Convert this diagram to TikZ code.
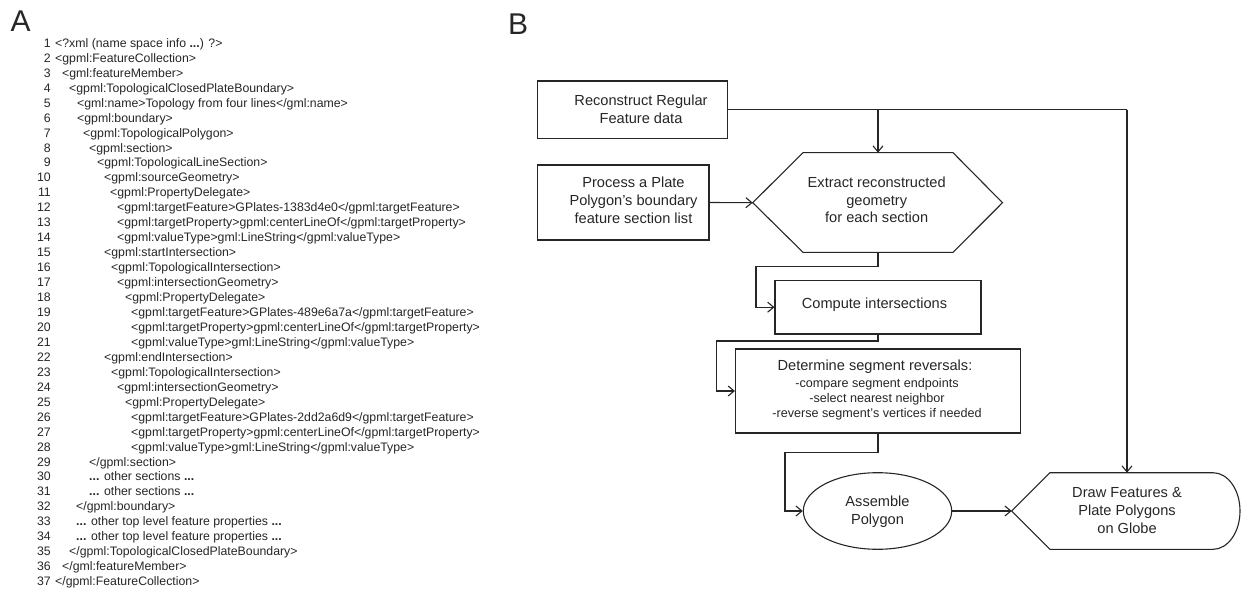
\documentclass[tikz,border=0pt]{standalone}
\usepackage{fontspec}
\setmainfont{Liberation Sans}
\usetikzlibrary{arrows.meta,shapes.geometric}
\definecolor{ink}{HTML}{262626}
\newcommand\codeline[3]{%
  \node[num] (n#1) at (51,{43+14.95*(#1-1)+4.4}) {#1};
  \node[code] (l#1) at (#2,{43+14.95*(#1-1)+4.4}) {#3};}
\begin{document}
\begin{tikzpicture}[x=1pt,y=-1pt,
  num/.style={anchor=base east,inner sep=0,text=ink,font=\fontsize{12.3}{15}\selectfont},
  code/.style={anchor=base west,inner sep=0,text=ink,font=\fontsize{12.3}{15}\selectfont},
  panel/.style={anchor=base west,inner sep=0,text=ink,font=\fontsize{30}{34}\selectfont},
  box/.style={draw=ink,line width=1.1pt,rectangle,inner sep=0},
  txt/.style={align=center,inner sep=0,text=ink,font=\fontsize{14.6}{17.6}\selectfont},
  small/.style={align=center,inner sep=0,text=ink,font=\fontsize{12.6}{15}\selectfont},
  ln/.style={draw=ink,line width=1.1pt,line join=miter},
  arr/.style={ln,-{Straight Barb[length=6pt,width=10pt]}}]
\useasboundingbox (0,0) rectangle (1241,596);
% panel labels
\node[panel] (labA) at (10.5,32) {A};
\node[panel] (labB) at (508,35) {B};
% code listing
\codeline{1}{55}{<?xml (name space info \textbf{...}) ?>}
\codeline{2}{55}{<gpml:FeatureCollection>}
\codeline{3}{62}{<gml:featureMember>}
\codeline{4}{69}{<gpml:TopologicalClosedPlateBoundary>}
\codeline{5}{77}{<gml:name>Topology from four lines</gml:name>}
\codeline{6}{77}{<gpml:boundary>}
\codeline{7}{83}{<gpml:TopologicalPolygon>}
\codeline{8}{89}{<gpml:section>}
\codeline{9}{97}{<gpml:TopologicalLineSection>}
\codeline{10}{104}{<gpml:sourceGeometry>}
\codeline{11}{110}{<gpml:PropertyDelegate>}
\codeline{12}{117}{<gpml:targetFeature>GPlates-1383d4e0</gpml:targetFeature>}
\codeline{13}{117}{<gpml:targetProperty>gpml:centerLineOf</gpml:targetProperty>}
\codeline{14}{117}{<gpml:valueType>gml:LineString</gpml:valueType>}
\codeline{15}{104}{<gpml:startIntersection>}
\codeline{16}{111}{<gpml:TopologicalIntersection>}
\codeline{17}{117}{<gpml:intersectionGeometry>}
\codeline{18}{125}{<gpml:PropertyDelegate>}
\codeline{19}{131}{<gpml:targetFeature>GPlates-489e6a7a</gpml:targetFeature>}
\codeline{20}{131}{<gpml:targetProperty>gpml:centerLineOf</gpml:targetProperty>}
\codeline{21}{131}{<gpml:valueType>gml:LineString</gpml:valueType>}
\codeline{22}{104}{<gpml:endIntersection>}
\codeline{23}{111}{<gpml:TopologicalIntersection>}
\codeline{24}{117}{<gpml:intersectionGeometry>}
\codeline{25}{125}{<gpml:PropertyDelegate>}
\codeline{26}{131}{<gpml:targetFeature>GPlates-2dd2a6d9</gpml:targetFeature>}
\codeline{27}{131}{<gpml:targetProperty>gpml:centerLineOf</gpml:targetProperty>}
\codeline{28}{131}{<gpml:valueType>gml:LineString</gpml:valueType>}
\codeline{29}{89}{</gpml:section>}
\codeline{30}{89}{\textbf{...} other sections \textbf{...}}
\codeline{31}{89}{\textbf{...} other sections \textbf{...}}
\codeline{32}{76}{</gpml:boundary>}
\codeline{33}{76}{\textbf{...} other top level feature properties \textbf{...}}
\codeline{34}{76}{\textbf{...} other top level feature properties \textbf{...}}
\codeline{35}{69}{</gpml:TopologicalClosedPlateBoundary>}
\codeline{36}{62}{</gml:featureMember>}
\codeline{37}{55}{</gpml:FeatureCollection>}
% flowchart boxes
\node[box,minimum width=190pt,minimum height=57.3pt] (rec) at (632.7,109.7) {};
\node[txt] (rect) at (641,109.5) {Reconstruct Regular\\Feature data};
\node[box,minimum width=171.3pt,minimum height=75pt] (proc) at (623.3,202.5) {};
\node[txt] (proct) at (633.5,200.2) {Process a Plate\\Polygon’s boundary\\feature section list};
% hexagon
\coordinate (hexL) at (752.7,202.7);
\coordinate (hexTL) at (803,152.7);
\coordinate (hexTR) at (953,152.7);
\coordinate (hexR) at (1002.5,202.7);
\coordinate (hexBR) at (953,252.3);
\coordinate (hexBL) at (803,252.3);
\coordinate (hexT) at (878,152.7);
\coordinate (hexB) at (878,252.3);
\draw[ln] (hexL) -- (hexTL) -- (hexTR) -- (hexR) -- (hexBR) -- (hexBL) -- cycle;
\node[txt] (hext) at (876.7,200) {Extract reconstructed\\geometry\\for each section};
\node[box,minimum width=206pt,minimum height=53.5pt] (comp) at (878,307.2) {};
\node[txt] (compt) at (874.5,305) {Compute intersections};
\node[box,minimum width=285pt,minimum height=84pt] (det) at (878,391) {};
\node[txt] (dett) at (875,366.5) {Determine segment reversals:};
\node[small] (detl) at (877,399.6) {-compare segment endpoints\\-select nearest neighbor\\-reverse segment’s vertices if needed};
\node[draw=ink,line width=1.1pt,ellipse,minimum width=148.4pt,minimum height=76.6pt,inner sep=0] (ell) at (877.5,511) {};
\node[txt] (ellt) at (877.5,511.5) {Assemble\\Polygon};
% display shape
\coordinate (drwL) at (1011.7,511);
\coordinate (drwTL) at (1050,472.7);
\coordinate (drwTR) at (1213,472.7);
\coordinate (drwBL) at (1050,549.3);
\coordinate (drwT) at (1127,472.7);
\draw[ln] (drwL) -- (drwTL) -- (drwTR) arc[start angle=90,end angle=-90,x radius=27pt,y radius=38.3pt] -- (drwBL) -- cycle;
\node[txt] (drwt) at (1127,510.5) {Draw Features \&\\Plate Polygons\\on Globe};
% connectors
\coordinate (top) at (1127,109.7);
\coordinate (j1) at (878,109.7);
\coordinate (c1) at (756,266.5);
\coordinate (c2) at (716.5,341);
\coordinate (c3) at (785,452.7);
\draw[ln] (rec.east) -- (top);
\draw[arr] (top) -- (drwT);
\draw[arr] (j1) -- (hexT);
\draw[arr] (proc.east) -- (hexL);
\draw[arr] (hexB) |- (c1) |- (comp.west);
\draw[arr] (comp.south) |- (c2) |- (det.west);
\draw[arr] (det.south) |- (c3) |- (ell.west);
\draw[arr] (ell.east) -- (drwL);
\end{tikzpicture}
\end{document}
